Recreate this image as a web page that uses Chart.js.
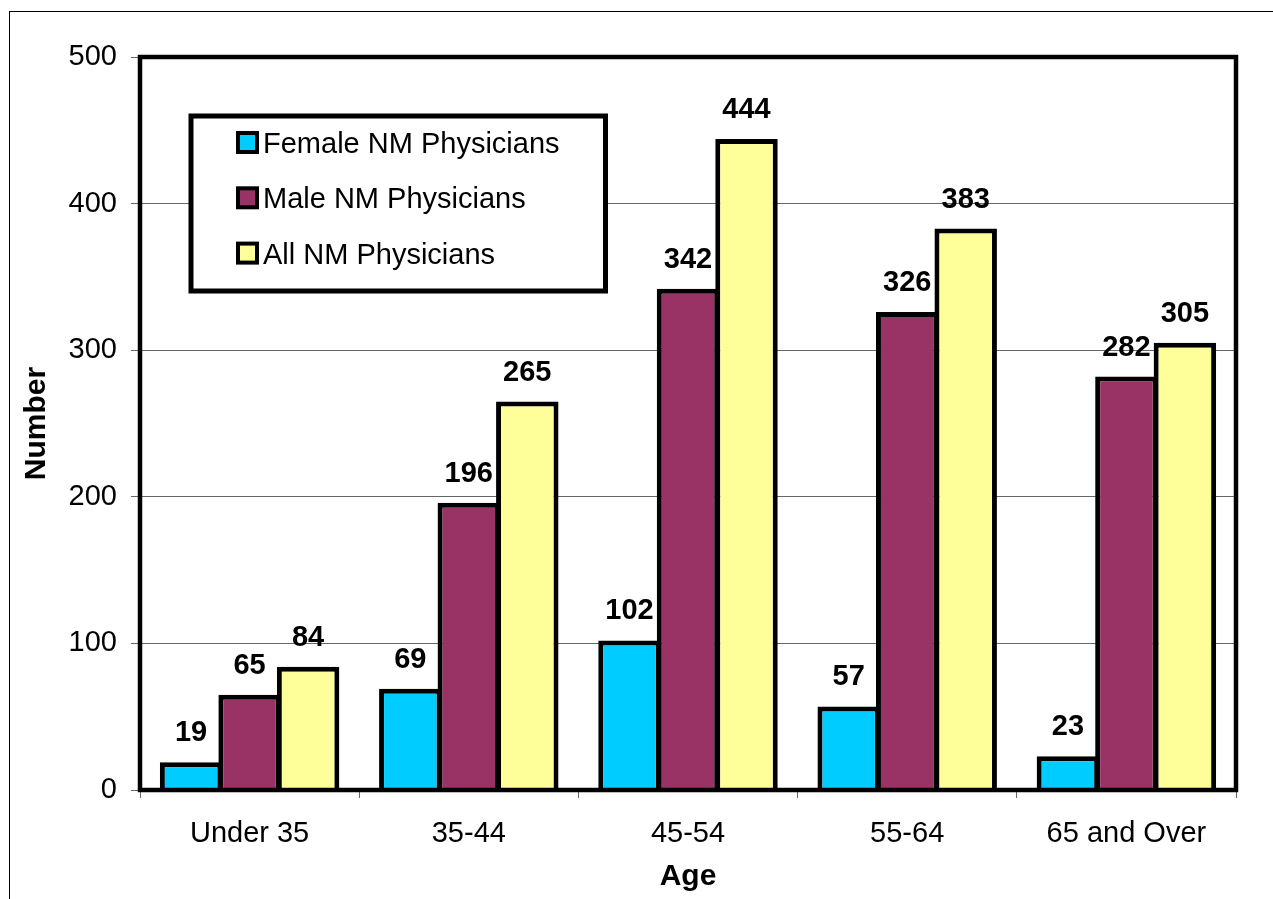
<!DOCTYPE html>
<html>
<head>
<meta charset="utf-8">
<script src="https://cdn.jsdelivr.net/npm/chart.js@4"></script>
<style>
  html, body { margin: 0; padding: 0; background: #fff; }
  #wrap { width: 1273px; height: 899px; }
</style>
</head>
<body>
<div id="wrap"><canvas id="c" width="1273" height="899"></canvas></div>
<script>
// Physicians in New Mexico by age group
const ageGroups = ['Under 35', '35-44', '45-54', '55-64', '65 and Over'];
const femaleCounts = [19, 69, 102, 57, 23];
const maleCounts = [65, 196, 342, 326, 282];
const allCounts = [84, 265, 444, 383, 305];
const seriesNames = ['Female NM Physicians', 'Male NM Physicians', 'All NM Physicians'];
const seriesColors = ['#00CCFF', '#993366', '#FFFF99'];
const yTicks = [0, 100, 200, 300, 400, 500];

const FONT = "'Liberation Sans', Arial, sans-serif";

// thin frame around the whole figure
const outerFrame = {
  id: 'outerFrame',
  beforeDraw(chart) {
    const ctx = chart.ctx;
    ctx.save();
    ctx.strokeStyle = '#000';
    ctx.lineWidth = 1;
    ctx.strokeRect(9.5, 11.5, chart.width + 20, chart.height + 20);
    ctx.restore();
  }
};

// heavy border around the plot area
const plotBorder = {
  id: 'plotBorder',
  afterDatasetsDraw(chart) {
    const a = chart.chartArea, ctx = chart.ctx;
    ctx.save();
    ctx.strokeStyle = '#000';
    ctx.lineWidth = 4.5;
    ctx.strokeRect(a.left, a.top, a.right - a.left, a.bottom - a.top);
    ctx.restore();
  }
};

// value printed above each bar
const barValues = {
  id: 'barValues',
  afterDatasetsDraw(chart) {
    const ctx = chart.ctx;
    ctx.save();
    ctx.font = 'bold 29px ' + FONT;
    ctx.fillStyle = '#000';
    ctx.textAlign = 'center';
    ctx.textBaseline = 'alphabetic';
    chart.data.datasets.forEach((ds, i) => {
      const meta = chart.getDatasetMeta(i);
      meta.data.forEach((bar, j) => {
        ctx.fillText(String(ds.data[j]), bar.x, bar.y - 21);
      });
    });
    ctx.restore();
  }
};

// boxed legend sitting inside the plot area
const boxLegend = {
  id: 'boxLegend',
  afterDraw(chart) {
    const ctx = chart.ctx;
    ctx.save();
    ctx.fillStyle = '#fff';
    ctx.fillRect(191, 116, 414.5, 175);
    ctx.strokeStyle = '#000';
    ctx.lineWidth = 5;
    ctx.strokeRect(191, 116, 414.5, 175);
    ctx.font = '29px ' + FONT;
    ctx.textAlign = 'left';
    ctx.textBaseline = 'alphabetic';
    chart.data.datasets.forEach((ds, i) => {
      const cy = 142.5 + i * 55.3;
      ctx.fillStyle = '#000';
      ctx.fillRect(236, cy - 11.5, 23, 23);
      ctx.fillStyle = ds.backgroundColor;
      ctx.fillRect(240, cy - 7.5, 15, 15);
      ctx.fillStyle = '#000';
      ctx.fillText(ds.label, 263, cy + 10.6);
    });
    ctx.restore();
  }
};

const datasets = [femaleCounts, maleCounts, allCounts].map((vals, i) => ({
  label: seriesNames[i],
  data: vals,
  backgroundColor: seriesColors[i],
  borderColor: '#000',
  borderWidth: 5,
  borderSkipped: 'start',
  categoryPercentage: 0.8006,
  barPercentage: 1.068
}));

new Chart(document.getElementById('c'), {
  type: 'bar',
  data: { labels: ageGroups, datasets },
  options: {
    responsive: false,
    animation: false,
    devicePixelRatio: 1,
    layout: { padding: { left: 0, right: 37, top: 57, bottom: 0 } },
    plugins: {
      legend: { display: false },
      tooltip: { enabled: false }
    },
    scales: {
      x: {
        offset: true,
        grid: {
          offset: true,
          drawOnChartArea: false,
          drawTicks: true,
          tickLength: 8,
          tickColor: '#666',
          lineWidth: 1
        },
        border: { display: false },
        ticks: {
          color: '#000',
          font: { family: FONT, size: 29 },
          padding: 19,
          maxRotation: 0,
          autoSkip: false
        },
        title: {
          display: true,
          text: 'Age',
          color: '#000',
          font: { family: FONT, size: 30, weight: 'bold' },
          padding: { top: 0, bottom: 4 }
        },
        afterFit(scale) { scale.height = 109; }
      },
      y: {
        min: 0,
        max: 500,
        afterBuildTicks(scale) { scale.ticks = yTicks.map(v => ({ value: v })); },
        grid: {
          color: '#666',
          lineWidth: 1,
          drawTicks: true,
          tickLength: 9,
          tickColor: '#666'
        },
        border: { display: false },
        ticks: {
          color: '#000',
          font: { family: FONT, size: 29 },
          padding: 14
        },
        title: {
          display: true,
          text: 'Number',
          color: '#000',
          font: { family: FONT, size: 30, weight: 'bold' },
          padding: { top: 19, bottom: 0 }
        },
        afterFit(scale) { scale.width = 140; }
      }
    }
  },
  plugins: [outerFrame, plotBorder, barValues, boxLegend]
});
</script>
</body>
</html>
